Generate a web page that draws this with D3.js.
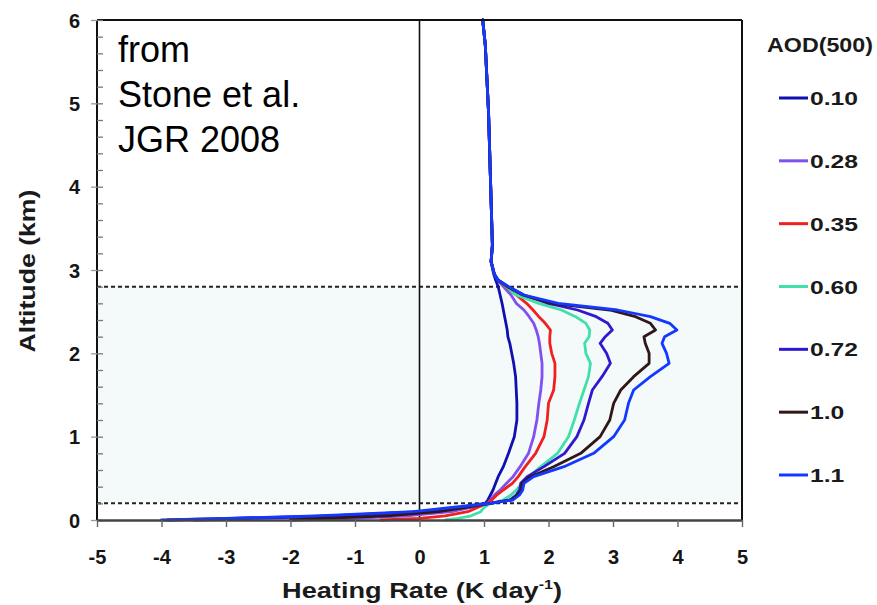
<!DOCTYPE html>
<html><head><meta charset="utf-8">
<script src="https://cdn.jsdelivr.net/npm/d3@7"></script>
<style>body{margin:0;background:#fff}svg{display:block}</style>
</head><body>
<svg id="chart" width="877" height="605"></svg>
<script>
// ---- data ----
const altitudes = [0, 0.02, 0.05, 0.1, 0.15, 0.2, 0.24, 0.3, 0.36, 0.44, 0.52, 0.64, 0.8, 1.0, 1.2, 1.4, 1.56, 1.72, 1.88, 2.0, 2.12, 2.2, 2.28, 2.36, 2.44, 2.52, 2.6, 2.7, 2.8, 2.88, 2.95, 3.1, 3.3, 4.1, 4.9, 5.7, 6.0];
const hr010 = [-3.9, -2.9, -1.4, 0.05, 0.6, 1.02, 1.06, 1.10, 1.14, 1.18, 1.22, 1.30, 1.38, 1.47, 1.51, 1.51, 1.50, 1.49, 1.46, 1.43, 1.40, 1.37, 1.36, 1.34, 1.32, 1.30, 1.28, 1.25, 1.22, 1.18, 1.15, 1.11, 1.13, 1.10, 1.07, 1.02, 0.98];
const hr028 = [-2.0, -1.0, -0.2, 0.5, 0.8, 1.05, 1.10, 1.16, 1.25, 1.35, 1.45, 1.56, 1.69, 1.77, 1.82, 1.85, 1.88, 1.90, 1.90, 1.88, 1.86, 1.84, 1.81, 1.77, 1.70, 1.62, 1.50, 1.42, 1.30, 1.21, 1.16, 1.11, 1.13, 1.10, 1.07, 1.02, 0.98];
const hr035 = [-0.6, 0.0, 0.4, 0.75, 0.9, 1.05, 1.12, 1.20, 1.30, 1.44, 1.53, 1.64, 1.80, 1.93, 1.98, 2.00, 2.08, 2.10, 2.10, 2.05, 2.02, 2.02, 2.03, 1.95, 1.85, 1.76, 1.66, 1.50, 1.33, 1.22, 1.16, 1.11, 1.13, 1.10, 1.07, 1.02, 0.98];
const hr060 = [0.4, 0.6, 0.8, 0.95, 1.0, 1.1, 1.30, 1.42, 1.50, 1.60, 1.70, 1.88, 2.14, 2.31, 2.40, 2.48, 2.55, 2.62, 2.65, 2.58, 2.56, 2.63, 2.64, 2.58, 2.42, 2.20, 1.85, 1.50, 1.34, 1.22, 1.16, 1.11, 1.13, 1.10, 1.07, 1.02, 0.98];
const hr072 = [-3.5, -2.5, -1.2, 0.0, 0.6, 1.1, 1.40, 1.50, 1.55, 1.57, 1.67, 1.93, 2.25, 2.44, 2.55, 2.62, 2.68, 2.83, 2.96, 2.90, 2.80, 2.88, 2.99, 2.92, 2.74, 2.45, 2.00, 1.62, 1.38, 1.22, 1.16, 1.11, 1.13, 1.10, 1.07, 1.02, 0.98];
const hr100 = [-2.0, -1.5, -0.5, 0.3, 0.7, 1.1, 1.42, 1.52, 1.58, 1.59, 1.72, 2.08, 2.50, 2.80, 2.95, 3.01, 3.12, 3.32, 3.56, 3.56, 3.50, 3.48, 3.66, 3.58, 3.35, 2.95, 2.05, 1.60, 1.36, 1.21, 1.16, 1.11, 1.13, 1.10, 1.07, 1.02, 0.98];
const hr110 = [-4.0, -3.0, -1.6, -0.1, 0.5, 1.1, 1.45, 1.55, 1.60, 1.62, 1.77, 2.24, 2.70, 3.01, 3.18, 3.24, 3.32, 3.58, 3.87, 3.83, 3.76, 3.80, 3.99, 3.88, 3.58, 3.07, 2.15, 1.62, 1.38, 1.21, 1.16, 1.11, 1.13, 1.10, 1.07, 1.02, 0.98];
const aodLabels = ["0.10", "0.28", "0.35", "0.60", "0.72", "1.0", "1.1"];
const xTickValues = [-5, -4, -3, -2, -1, 0, 1, 2, 3, 4, 5];
const yTickValues = [0, 1, 2, 3, 4, 5, 6];
const layerBounds = [0.2, 2.8];
const legendTitle = "AOD(500)";
const noteLines = ["from", "Stone et al.", "JGR 2008"];

// ---- styles ----
const seriesColors = ["#1010b0", "#8050f0", "#f02020", "#40e0a8", "#3018d0", "#301818", "#1438ff"];
const FONT = "'Liberation Sans', Arial, Helvetica, sans-serif";

const allSeries = [hr010, hr028, hr035, hr060, hr072, hr100, hr110].map((vals, i) => ({
  label: aodLabels[i], color: seriesColors[i],
  points: vals.map((h, j) => ({ h: h, alt: altitudes[j] }))
}));

const svg = d3.select("#chart");
const pL = 97, pR = 742, pT = 20, pB = 520;
const x = d3.scaleLinear().domain([-5, 5]).range([pL, pR]);
const y = d3.scaleLinear().domain([0, 6]).range([pB, pT]);

// shaded aerosol layer
svg.append("rect")
  .attr("x", pL).attr("width", pR - pL)
  .attr("y", y(layerBounds[1])).attr("height", y(layerBounds[0]) - y(layerBounds[1]))
  .attr("fill", "#f4f9fa");

// dotted layer bounds
svg.selectAll("line.bound").data(layerBounds).enter().append("line")
  .attr("class", "bound")
  .attr("x1", pL).attr("x2", pR)
  .attr("y1", d => y(d)).attr("y2", d => y(d))
  .attr("stroke", "#222").attr("stroke-width", 2).attr("stroke-dasharray", "4,3");

// zero line
svg.append("line").attr("x1", x(0)).attr("x2", x(0)).attr("y1", pT).attr("y2", pB)
  .attr("stroke", "#111").attr("stroke-width", 1.6);

// curves
const line = d3.line().x(d => x(d.h)).y(d => y(d.alt));
svg.append("g").selectAll("path").data(allSeries).enter().append("path")
  .attr("d", d => line(d.points))
  .attr("fill", "none").attr("stroke", d => d.color)
  .attr("stroke-width", 2.8).attr("stroke-linejoin", "round").attr("stroke-linecap", "round");

// frame
svg.append("line").attr("x1", pL).attr("x2", pR).attr("y1", pT).attr("y2", pT).attr("stroke", "#111").attr("stroke-width", 2);
svg.append("line").attr("x1", pR).attr("x2", pR).attr("y1", pT).attr("y2", pB).attr("stroke", "#111").attr("stroke-width", 2);
svg.append("line").attr("x1", pL).attr("x2", pL).attr("y1", pT).attr("y2", pB + 1).attr("stroke", "#111").attr("stroke-width", 2);

// minor y ticks (inward)
const yMinor = svg.append("g").attr("transform", `translate(${pL},0)`)
  .call(d3.axisLeft(y).tickValues(d3.range(0, 6.001, 0.2)).tickSizeInner(-6).tickSizeOuter(0).tickFormat(""));
yMinor.select(".domain").remove();
yMinor.selectAll("line").attr("stroke", "#777").attr("stroke-width", 1.3);

// y axis
const yAx = svg.append("g").attr("transform", `translate(${pL},0)`)
  .call(d3.axisLeft(y).tickValues(yTickValues).tickSizeInner(6).tickSizeOuter(0).tickPadding(11).tickFormat(d3.format("d")));
yAx.select(".domain").remove();
yAx.selectAll("line").attr("stroke", "#999").attr("stroke-width", 1.3);
yAx.selectAll("text").attr("font-family", FONT).attr("font-size", 20).attr("font-weight", "bold")
  .attr("fill", "#151515").attr("dy", "0.36em");

// x axis
const xAx = svg.append("g").attr("transform", `translate(0,${pB})`)
  .call(d3.axisBottom(x).tickValues(xTickValues).tickSizeInner(7).tickSizeOuter(0).tickPadding(23).tickFormat(d3.format("d")));
xAx.select(".domain").attr("stroke", "#444").attr("stroke-width", 2.6);
xAx.selectAll("line").attr("stroke", "#666").attr("stroke-width", 1.4);
xAx.selectAll("text").attr("font-family", FONT).attr("font-size", 20).attr("font-weight", "bold")
  .attr("fill", "#151515").attr("dy", "0.71em").text(d => d < 0 ? "-" + Math.abs(d) : d);

// helper: stretch a text along its direction to a target width
function fitText(textSel, targetW) {
  const w = textSel.node().getComputedTextLength();
  textSel.attr("transform", `scale(${targetW / w},1)`);
}

// x axis title
const xtG = svg.append("g").attr("transform", `translate(422,598)`);
const xt = xtG.append("text").attr("text-anchor", "middle").attr("font-family", FONT)
  .attr("font-size", 22).attr("font-weight", "bold").attr("fill", "#1a1a1a");
xt.append("tspan").text("Heating Rate (K day");
xt.append("tspan").text("-1").attr("font-size", 13).attr("dy", -9);
xt.append("tspan").text(")").attr("dy", 9);
fitText(xt, 280);

// y axis title
const ytG = svg.append("g").attr("transform", `translate(35,271) rotate(-90)`);
const yt = ytG.append("text").attr("text-anchor", "middle").attr("font-family", FONT)
  .attr("font-size", 22).attr("font-weight", "bold").attr("fill", "#1a1a1a").text("Altitude (km)");
fitText(yt, 163);

// note text
svg.append("g").selectAll("text").data(noteLines).enter().append("text")
  .attr("x", 118).attr("y", (d, i) => 62 + i * 45)
  .attr("font-family", FONT).attr("font-size", 36).attr("fill", "#000").text(d => d);

// legend
const lgT = svg.append("g").attr("transform", "translate(767,52)");
const lgTitle = lgT.append("text").attr("font-family", FONT).attr("font-size", 20)
  .attr("font-weight", "bold").attr("fill", "#1a1a1a").text(legendTitle);
fitText(lgTitle, 106);

const legendY = d3.scalePoint().domain(aodLabels).range([98, 475]);
allSeries.forEach(s => {
  const cy = legendY(s.label);
  svg.append("line").attr("x1", 779).attr("x2", 808).attr("y1", cy).attr("y2", cy)
    .attr("stroke", s.color).attr("stroke-width", 3);
  const g = svg.append("g").attr("transform", `translate(810,${cy + 7})`);
  g.append("text").attr("font-family", FONT).attr("font-size", 19)
    .attr("font-weight", "bold").attr("fill", "#1a1a1a").text(s.label)
    .attr("transform", "scale(1.3,1)");
});
</script>
</body></html>
